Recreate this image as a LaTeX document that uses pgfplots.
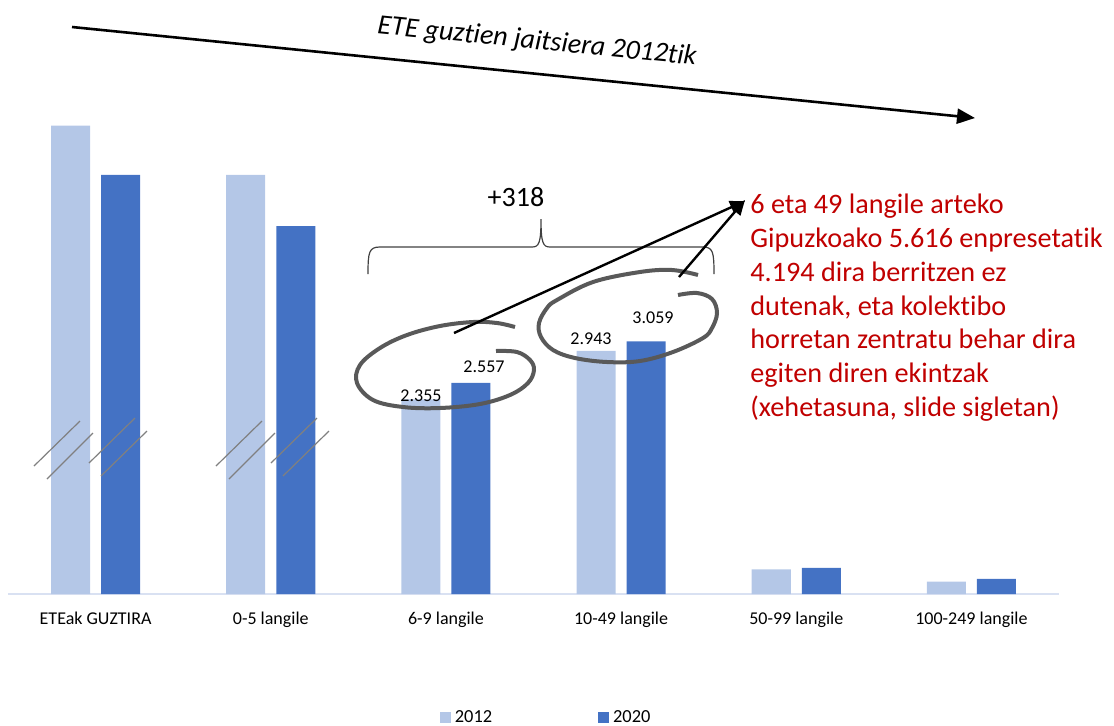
\documentclass[border=0pt]{standalone}
\usepackage{fontspec}
\setmainfont{Carlito}[Ligatures=NoCommon]
\usepackage{pgfplots}
\pgfplotsset{compat=1.18}
\usetikzlibrary{arrows.meta}
\definecolor{c12}{HTML}{B4C7E7}
\definecolor{c20}{HTML}{4472C4}
\definecolor{axisc}{HTML}{D9E1F2}
\definecolor{loopc}{HTML}{595959}
\definecolor{redc}{HTML}{C00000}
\begin{document}
\begin{tikzpicture}
\useasboundingbox (0,0) rectangle (557pt,-362.5pt);
\begin{axis}[
  at={(4pt,-297pt)}, anchor=south west,
  scale only axis, width=525.5pt, height=247.8pt,
  xmin=-0.5, xmax=5.5, ymin=0, ymax=6000,
  ybar=5.5pt, bar width=19.5pt,
  axis y line=none, axis x line=bottom,
  axis line style={draw=axisc, line width=1pt, -},
  xtick={0,1,2,3,4,5},
  xticklabels={ETEak GUZTIRA, 0-5 langile, 6-9 langile, 10-49 langile, 50-99 langile, 100-249 langile},
  major tick length=0pt,
  xticklabel style={font=\fontsize{9}{11}\selectfont, text=black, anchor=north, inner sep=0pt, yshift=-9pt},
  clip=false,
  legend style={at={(axis description cs:0.513,-0.25)}, anchor=center, draw=none, fill=none,
    legend columns=2, font=\fontsize{9.2}{11}\selectfont, inner sep=0pt,
    /tikz/every even column/.append style={column sep=51pt}},
]
\addplot[fill=c12, draw=none, legend image code/.code={\fill[c12] (0pt,-2.75pt) rectangle (5.5pt,2.75pt);}]
  coordinates {(0,5670) (1,5073) (2,2355) (3,2943) (4,299) (5,149)};
\addplot[fill=c20, draw=none, legend image code/.code={\fill[c20] (0pt,-2.75pt) rectangle (5.5pt,2.75pt);}]
  coordinates {(0,5073) (1,4455) (2,2557) (3,3059) (4,315) (5,184)};
\legend{2012,2020}
\end{axis}
\begin{scope}[x=0.5pt, y=-0.5pt]
% top arrow and title
\draw[line width=1.3pt, -{Triangle[length=9pt, width=7.5pt]}] (72,27) -- (975,118);
\node[rotate=-5.7, font=\itshape\fontsize{14}{17}\selectfont] at (537,42) {ETE guztien jaitsiera 2012tik};
% break marks
\foreach \dx/\dy in {0/0, 182/0}{
  \draw[black!50, line width=0.6pt] (34+\dx,466) -- (80+\dx,421);
  \draw[black!50, line width=0.6pt] (47+\dx,479) -- (93+\dx,433);
  \draw[black!50, line width=0.6pt] (89+\dx,463) -- (135+\dx,418);
  \draw[black!50, line width=0.6pt] (101+\dx,476) -- (147+\dx,431);
}
% brace
\draw[line width=0.6pt, black!75] (368,274) .. controls (368,252) and (369,247) .. (380,247) -- (532,247)
  .. controls (539,247) and (541,243) .. (541,219) .. controls (541,243) and (543,247) .. (550,247)
  -- (703,247) .. controls (713,247) and (714,252) .. (714,274);
\node[font=\fontsize{14}{17}\selectfont] at (516,197) {+318};
% value labels
\node[font=\fontsize{9}{11}\selectfont] at (421,396) {2.355};
\node[font=\fontsize{9}{11}\selectfont] at (484,367) {2.557};
\node[font=\fontsize{9}{11}\selectfont] at (591,339) {2.943};
\node[font=\fontsize{9}{11}\selectfont] at (653,318) {3.059};
% loops
\draw[loopc, line width=2pt, smooth, tension=0.6] plot coordinates {(496,351) (517,352) (530,360) (534,370) (528,383) (510,395) (480,404) (440,408) (403,407) (373,400) (357,383) (360,365) (380,348) (407,335) (440,326) (473,322) (497,323) (515,327)};
\draw[loopc, line width=2pt, smooth, tension=0.6] plot coordinates {(678,295) (697,293) (712,299) (717,313) (712,328) (703,338) (673,352) (640,361) (607,362) (575,358) (553,350) (541,337) (539,323) (547,308) (557,300) (593,282) (640,272) (672,270) (698,275)};
% pointer arrows
\draw[line width=1.2pt, -{Triangle[length=7.5pt, width=6.5pt]}] (454,333) -- (745,201);
\draw[line width=1.2pt, -{Triangle[length=7.5pt, width=6.5pt]}] (679,277) -- (745,200);
% red text
\node[anchor=north west, inner sep=0pt, align=left, text=redc, font=\fontsize{14.1}{16.85}\selectfont] at (750,194)
 {6 eta 49 langile arteko\\Gipuzkoako 5.616 enpresetatik\\4.194 dira berritzen ez\\dutenak, eta kolektibo\\horretan zentratu behar dira\\egiten diren ekintzak\\(xehetasuna, slide sigletan)};
\end{scope}
\end{tikzpicture}
\end{document}
